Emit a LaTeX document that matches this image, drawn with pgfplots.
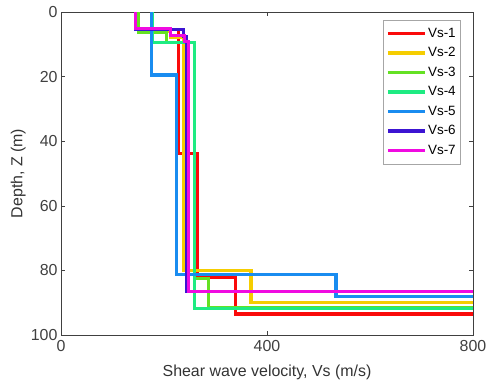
\documentclass[border=0pt]{standalone}
\usepackage{fontspec}
\setmainfont{Liberation Sans}
\usepackage{pgfplots}
\pgfplotsset{compat=1.18}
\definecolor{c1}{RGB}{250,10,10}
\definecolor{c2}{RGB}{245,205,0}
\definecolor{c3}{RGB}{100,225,35}
\definecolor{c4}{RGB}{30,235,130}
\definecolor{c5}{RGB}{25,140,240}
\definecolor{c6}{RGB}{60,20,210}
\definecolor{c7}{RGB}{240,10,225}
\tikzset{vsline/.style={line width=3.1pt, line join=miter}}
\begin{document}
\begin{tikzpicture}
\begin{axis}[
  scale only axis, width=412bp, height=323bp,
  xmin=0, xmax=800, ymin=0, ymax=100, y dir=reverse,
  xtick={0,400,800}, ytick={0,20,40,60,80,100},
  tick align=inside, major tick length=4bp,
  axis line style={black!75, line width=0.6pt},
  every tick/.style={black!75, line width=0.6pt},
  /pgf/number format/assume math mode=true,
  tick label style={font=\fontsize{16}{18}\selectfont, text=black!75},
  xticklabel style={yshift=-2bp},
  xlabel={Shear wave velocity, Vs (m/s)},
  ylabel={Depth, Z (m)},
  label style={font=\fontsize{16}{18}\selectfont, text=black!80},
  xlabel style={at={(axis description cs:0.5,-0.1146)}, anchor=center},
  ylabel style={at={(axis description cs:-0.104,0.5)}, anchor=center},
  legend style={at={(axis description cs:0.7816,0.975)}, anchor=north west,
    draw=black!35, fill=white, font=\fontsize{13.5}{15}\selectfont,
    inner xsep=3bp, inner ysep=5bp, row sep=3bp,
    nodes={inner sep=1.75bp, text height=10bp, text depth=3bp}},
  legend cell align=left,
  legend image code/.code={\draw[#1, line width=3.1pt] (0bp,0bp) -- (37bp,0bp);},
]
\addplot[c1, vsline] coordinates {(150,0)(150,5.5)(228,5.5)(228,43.8)(265,43.8)(265,82.2)(338,82.2)(338,93.5)(800,93.5)};
\addlegendentry{Vs-1}
\addplot[c2, vsline] coordinates {(150,0)(150,6.1)(212,6.1)(212,8)(237,8)(237,80)(369,80)(369,90)(800,90)};
\addlegendentry{Vs-2}
\addplot[c3, vsline] coordinates {(150,0)(150,6.3)(205,6.3)(205,9.5)(260,9.5)(260,82.5)(286,82.5)(286,91.5)(800,91.5)};
\addlegendentry{Vs-3}
\addplot[c4, vsline] coordinates {(177,0)(177,9.5)(260,9.5)(260,91.7)(800,91.7)};
\addlegendentry{Vs-4}
\addplot[c5, vsline] coordinates {(176,0)(176,19.5)(225,19.5)(225,81.3)(534,81.3)(534,88.1)(800,88.1)};
\addlegendentry{Vs-5}
\addplot[c6, vsline] coordinates {(145,0)(145,5.3)(238,5.3)(238,7.6)(244,7.6)(244,86.4)(800,86.4)};
\addlegendentry{Vs-6}
\addplot[c7, vsline] coordinates {(145,0)(145,5.1)(212,5.1)(212,7.4)(240,7.4)(240,9.0)(247,9.0)(247,86.4)(800,86.4)};
\addlegendentry{Vs-7}
\end{axis}
\pgfresetboundingbox
\path[use as bounding box] (-61bp,-48bp) rectangle (425bp,335bp);
\end{tikzpicture}
\end{document}
